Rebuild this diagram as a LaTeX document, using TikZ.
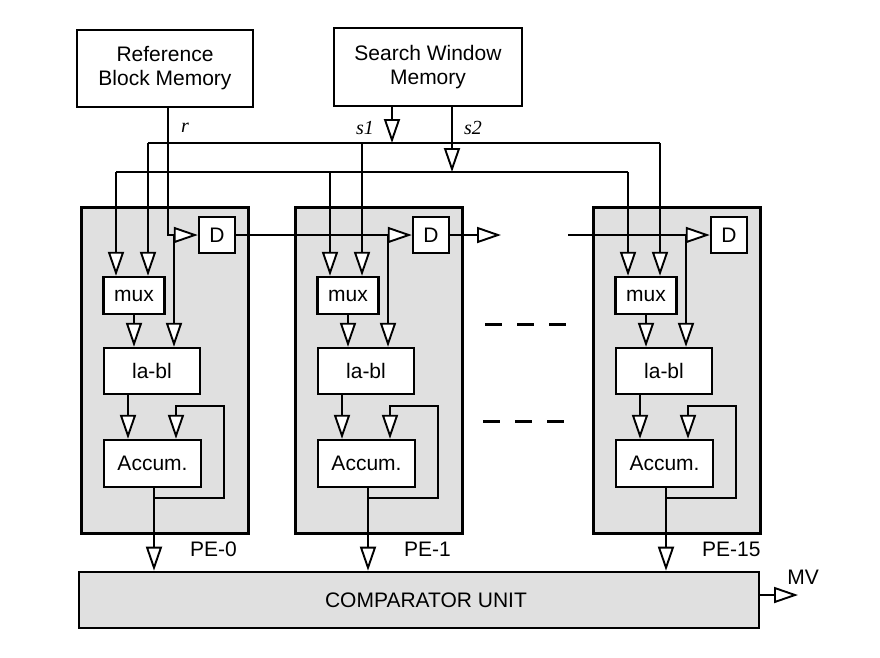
\documentclass[tikz,border=0pt]{standalone}
\usepackage{fontspec}
\setmainfont{Liberation Sans}
\newfontfamily\serifit{Liberation Serif}
\usetikzlibrary{arrows.meta}
\begin{document}
\begin{tikzpicture}[x=1pt,y=-1pt,
  ln/.style={line width=1.9pt},
  arr/.style={ln,-{Triangle[length=24pt,width=16pt,fill=white]}},
  blk/.style={draw,line width=2.4pt,fill=white,inner sep=0pt,font=\fontsize{21}{24}\selectfont,align=center},
  pebox/.style={draw,line width=2.6pt,fill=black!12,inner sep=0pt},
  lbl/.style={font=\fontsize{21}{24}\selectfont,inner sep=0pt},
  itl/.style={font=\serifit\itshape\fontsize{20}{23}\selectfont,inner sep=0pt},
  dsh/.style={line width=3pt,dash pattern=on 17pt off 15pt}]
\useasboundingbox (0,0) rectangle (880,657);

\node[blk,minimum width=176pt,minimum height=77pt] (rbm) at (165,68.5) {Reference\\Block Memory};
\node[blk,minimum width=188pt,minimum height=78pt] (swm) at (428,67) {Search Window\\Memory};
\node[pebox,minimum width=680pt,minimum height=56pt] (cmp) at (419,600) {};
\node[lbl] (cmptxt) at (426,600) {COMPARATOR UNIT};

\foreach \n/\x in {0/80,1/294,15/592}{
  \node[pebox,minimum width=167pt,minimum height=326pt,anchor=north west] (pe\n) at (\x,206) {};
  \node[blk,minimum width=61pt,minimum height=37pt] (mux\n) at (\x+54,295.5) {mux};
  \node[blk,minimum width=96pt,minimum height=46pt] (labl\n) at (\x+72,371) {la-bl};
  \node[blk,minimum width=97pt,minimum height=47pt] (acc\n) at (\x+72.5,463.5) {Accum.};
  \node[blk,minimum width=36pt,minimum height=36pt] (d\n) at (\x+137,235) {D};
  \node[lbl,anchor=west] (pel\n) at (\x+110,549) {PE-\n};
  \coordinate (sa\n) at (\x+36,172);
  \coordinate (sb\n) at (\x+68,143);
  \coordinate (din\n) at (\x+94,235);
  \coordinate (ta\n) at (\x+48,0);
  \coordinate (fo\n) at (\x+74,498);
  \coordinate (fb\n) at (\x+96,406);
}

% buses
\draw[ln] (sa0) -- (sa15);
\draw[ln] (sb0) -- (sb15);
\coordinate (s1x) at (392,0);
\coordinate (s2x) at (452,0);
\draw[arr] (s1x |- swm.south) -- (s1x |- sb0);
\draw[arr] (s2x |- swm.south) -- (s2x |- sa0);
\coordinate (rx) at (168,0);
\draw[arr] (rx |- rbm.south) |- (d0.west);
\draw[arr] (d0.east) -- (d1.west);
\coordinate (dout) at (501,235);
\draw[arr] (d1.east) -- (dout);
\coordinate (din15s) at (568,235);
\draw[arr] (din15s) -- (d15.west);

\foreach \n in {0,1,15}{
  \draw[arr] (sa\n) -- (sa\n |- mux\n.north);
  \draw[arr] (sb\n) -- (sb\n |- mux\n.north);
  \draw[arr] (mux\n.south) -- (mux\n.south |- labl\n.north);
  \draw[arr] (din\n) -- (din\n |- labl\n.north);
  \draw[arr] (ta\n |- labl\n.south) -- (ta\n |- acc\n.north);
  \draw[arr] (fo\n |- acc\n.south) -- (fo\n |- cmp.north);
  \draw[arr] (fo\n) -| ([xshift=48pt]fb\n) -| (fb\n |- acc\n.north);
}

\node[itl] (rl) at (185,128) {r};
\node[itl] (s1l) at (365,128) {s1};
\node[itl] (s2l) at (473,128) {s2};

\coordinate (mvend) at (798,595);
\draw[arr] (cmp.east |- mvend) -- (mvend);
\node[lbl] (mv) at (803,577) {MV};

\coordinate (da1) at (485,324);
\coordinate (da2) at (568,324);
\coordinate (db1) at (483,421);
\coordinate (db2) at (566,421);
\draw[dsh] (da1) -- (da2);
\draw[dsh] (db1) -- (db2);
\end{tikzpicture}
\end{document}
